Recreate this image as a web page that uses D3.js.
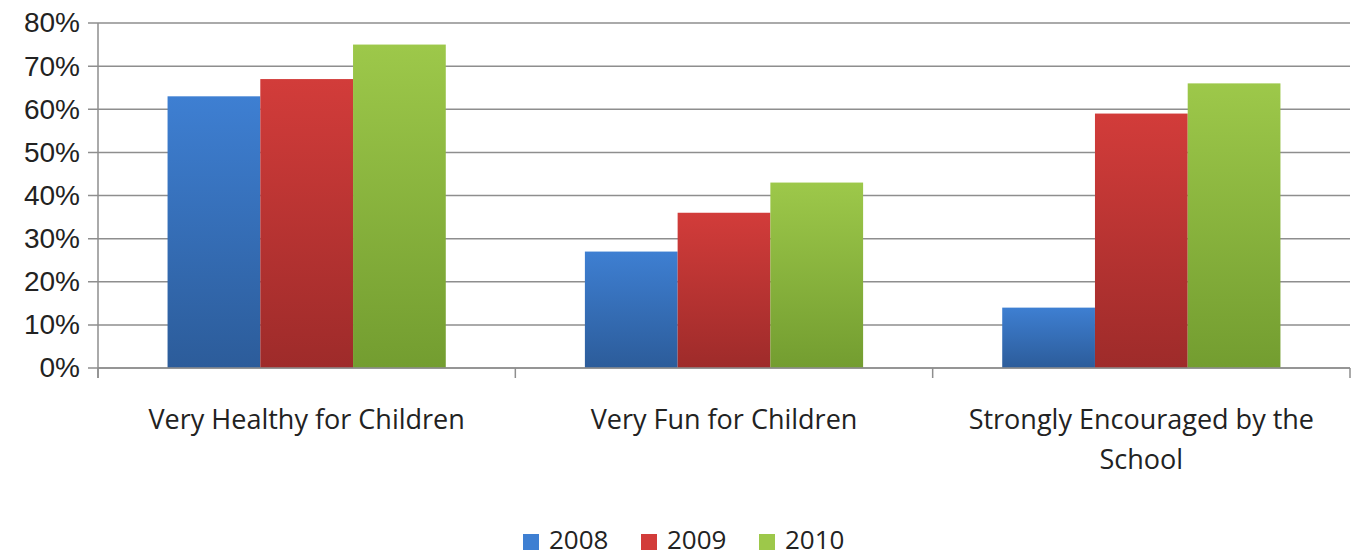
<!DOCTYPE html>
<html>
<head>
<meta charset="utf-8">
<script src="https://cdn.jsdelivr.net/npm/d3@7"></script>
<style>
  body { margin: 0; background: #fff; }
  svg { display: block; font-family: "Open Sans", "Liberation Sans", sans-serif; }
</style>
</head>
<body>
<div id="chart"></div>
<script>
// data
const categories = ["Very Healthy for Children", "Very Fun for Children", "Strongly Encouraged by the School"];
const years = ["2008", "2009", "2010"];
const values2008 = [63, 27, 14];
const values2009 = [67, 36, 59];
const values2010 = [75, 43, 66];
const yTicks = [0, 10, 20, 30, 40, 50, 60, 70, 80];

const seriesValues = [values2008, values2009, values2010];
const colours = [
  {top: "#3e7fd2", bottom: "#2c5c9a"},
  {top: "#d23c3a", bottom: "#9e2b2a"},
  {top: "#9dc84a", bottom: "#739d30"}
];

const width = 1357, height = 559;
const margin = {top: 23, right: 7, bottom: 191, left: 98};
const innerW = width - margin.left - margin.right;
const innerH = height - margin.top - margin.bottom;

const svg = d3.select("#chart")
  .append("svg")
  .attr("width", width)
  .attr("height", height);

const defs = svg.append("defs");
colours.forEach(function(c, i) {
  const grad = defs.append("linearGradient")
    .attr("id", "grad" + i)
    .attr("x1", 0).attr("y1", 0).attr("x2", 0).attr("y2", 1);
  grad.append("stop").attr("offset", "0%").attr("stop-color", c.top);
  grad.append("stop").attr("offset", "100%").attr("stop-color", c.bottom);
});

const g = svg.append("g")
  .attr("transform", `translate(${margin.left}, ${margin.top})`);

const x = d3.scaleBand()
  .domain(categories)
  .range([0, innerW])
  .paddingInner(0)
  .paddingOuter(0);

const xSub = d3.scaleBand()
  .domain(years)
  .range([0, x.bandwidth()])
  .paddingOuter(0.75)
  .paddingInner(0);

const y = d3.scaleLinear()
  .domain([0, 80])
  .range([innerH, 0]);

// gridlines
g.append("g")
  .selectAll("line")
  .data(yTicks)
  .join("line")
  .attr("x1", -10)
  .attr("x2", innerW)
  .attr("y1", d => y(d))
  .attr("y2", d => y(d))
  .attr("stroke", "#8e8e8e")
  .attr("stroke-width", 1.5);

// y axis
const yAxis = g.append("g")
  .call(d3.axisLeft(y).tickValues(yTicks).tickSize(0).tickPadding(18).tickFormat(d => d + "%"));
yAxis.select(".domain").remove();
yAxis.selectAll("text")
  .attr("font-size", 28)
  .attr("fill", "#222");

g.append("line")
  .attr("x1", 0).attr("x2", 0)
  .attr("y1", 0).attr("y2", innerH + 10)
  .attr("stroke", "#8e8e8e")
  .attr("stroke-width", 1.5);

// bars
const groups = g.selectAll(".group")
  .data(categories)
  .join("g")
  .attr("class", "group")
  .attr("transform", d => `translate(${x(d)}, 0)`);

groups.selectAll("rect")
  .data((d, ci) => years.map((yr, si) => ({year: yr, si: si, value: seriesValues[si][ci]})))
  .join("rect")
  .attr("x", d => xSub(d.year))
  .attr("y", d => y(d.value))
  .attr("width", xSub.bandwidth())
  .attr("height", d => innerH - y(d.value))
  .attr("fill", d => "url(#grad" + d.si + ")");

// x axis
const xAxis = g.append("g")
  .attr("transform", `translate(0, ${innerH})`);
xAxis.append("line")
  .attr("x1", 0).attr("x2", innerW)
  .attr("stroke", "#8e8e8e")
  .attr("stroke-width", 1.5);
xAxis.selectAll(".tick")
  .data(d3.range(categories.length + 1))
  .join("line")
  .attr("x1", i => i * x.bandwidth())
  .attr("x2", i => i * x.bandwidth())
  .attr("y1", 0).attr("y2", 10)
  .attr("stroke", "#8e8e8e")
  .attr("stroke-width", 1.5);

// category labels, wrapped like the original
const labelLines = [["Very Healthy for Children"], ["Very Fun for Children"], ["Strongly Encouraged by the", "School"]];
xAxis.selectAll(".cat")
  .data(categories)
  .join("text")
  .attr("class", "cat")
  .attr("text-anchor", "middle")
  .attr("font-size", 27)
  .attr("fill", "#222")
  .attr("transform", d => `translate(${x(d) + x.bandwidth() / 2}, 61)`)
  .selectAll("tspan")
  .data((d, i) => labelLines[i])
  .join("tspan")
  .attr("x", 0)
  .attr("dy", (d, i) => i === 0 ? 0 : 40)
  .text(d => d);

// legend
const legendX = [523, 641, 759];
const legend = svg.append("g")
  .attr("transform", "translate(0, 540)");
const items = legend.selectAll("g")
  .data(years)
  .join("g")
  .attr("transform", (d, i) => `translate(${legendX[i]}, 0)`);
items.append("rect")
  .attr("x", 0).attr("y", -6)
  .attr("width", 16).attr("height", 16)
  .attr("fill", (d, i) => colours[i].top);
items.append("text")
  .attr("x", 26)
  .attr("y", 0)
  .attr("dy", "0.36em")
  .attr("font-size", 26)
  .attr("fill", "#222")
  .text(d => d);
</script>
</body>
</html>
